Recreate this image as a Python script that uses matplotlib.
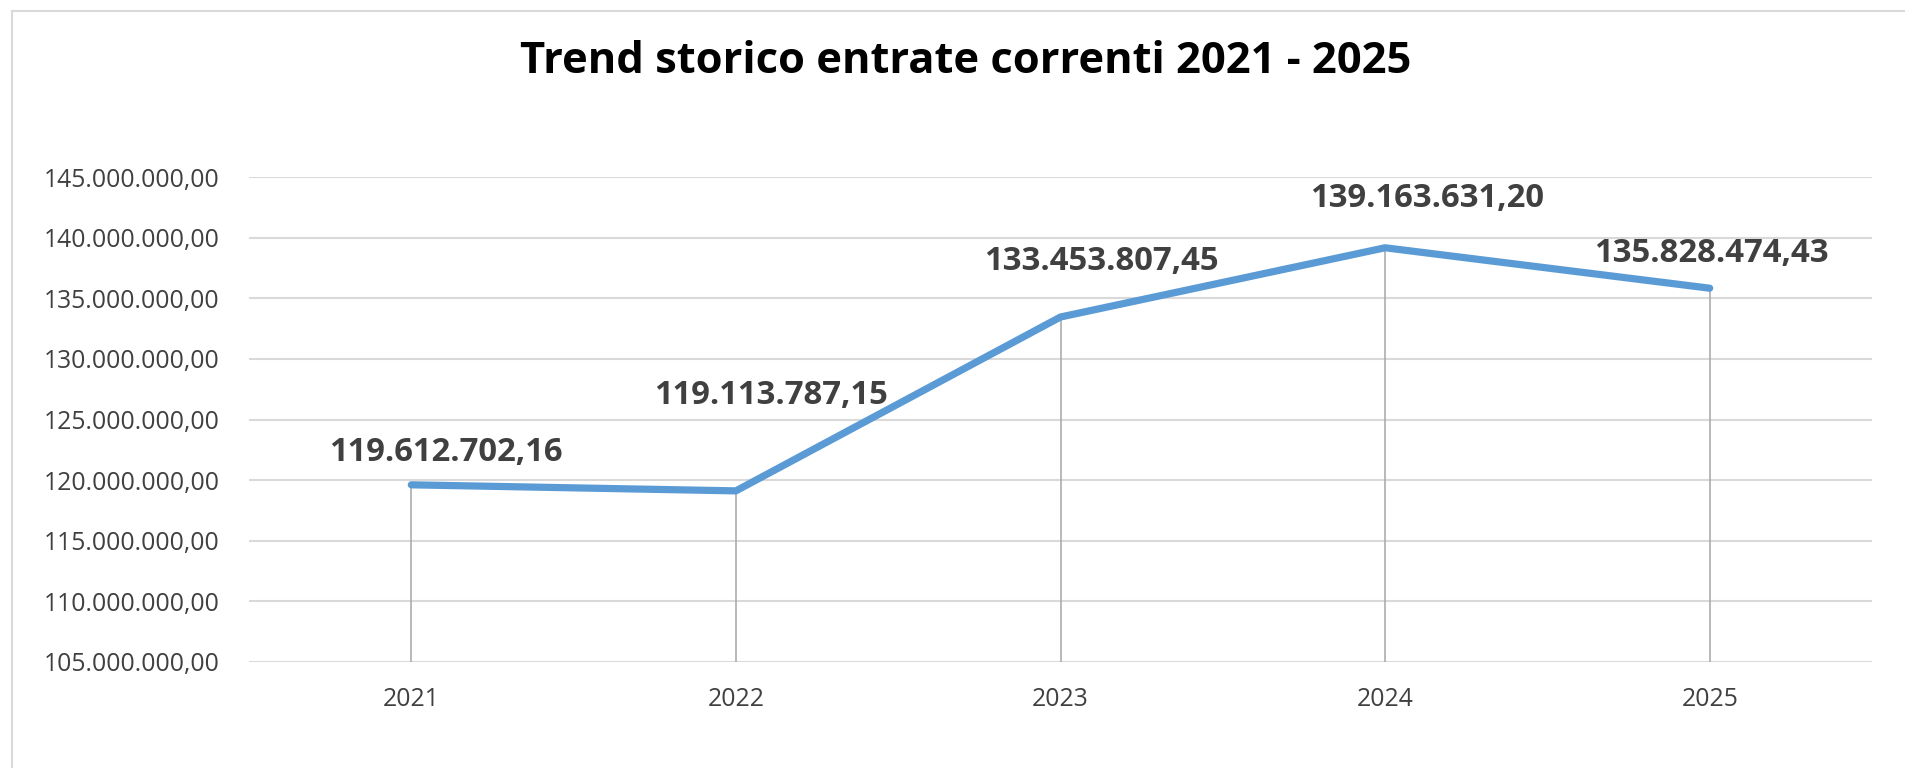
import matplotlib.pyplot as plt
from matplotlib.lines import Line2D
from matplotlib.ticker import FuncFormatter, MultipleLocator

anni = ["2021", "2022", "2023", "2024", "2025"]
entrate = [119612702.16, 119113787.15, 133453807.45, 139163631.20, 135828474.43]
titolo = "Trend storico entrate correnti 2021 - 2025"

# spostamento etichette (pixel) rispetto al punto, come nell'originale
etichette_dx = [35, 35, 41, 42, 2]
etichette_dy = [32, 95, 55, 49, 35]

W, H = 1905, 768
DPI = 100


def formato_it(v, pos=None):
    s = f"{v:,.2f}"
    return s.replace(",", "X").replace(".", ",").replace("X", ".")


fig = plt.figure(figsize=(W / DPI, H / DPI), dpi=DPI)
fig.patch.set_facecolor("white")

ax = fig.add_axes([249 / W, 1 - 662 / H, 1623 / W, 485 / H])
x = list(range(len(anni)))

ax.set_xlim(-0.5, len(anni) - 0.5)
ax.set_ylim(105_000_000, 145_000_000)
ax.yaxis.set_major_locator(MultipleLocator(5_000_000))
ax.yaxis.set_major_formatter(FuncFormatter(formato_it))
ax.grid(axis="y", color="#D9D9D9", linewidth=1.5)
ax.set_axisbelow(True)
for sp in ax.spines.values():
    sp.set_visible(False)

ax.vlines(x, 105_000_000, entrate, color="#A6A6A6", linewidth=1.1, zorder=2)
ax.plot(x, entrate, color="#5B9BD5", linewidth=5.2, solid_capstyle="round",
        solid_joinstyle="round", zorder=3)

ax.set_xticks(x)
ax.set_xticklabels(anni)
ax.tick_params(axis="x", length=0, pad=18)
ax.tick_params(axis="y", length=0, pad=21)
for lab in ax.get_xticklabels() + ax.get_yticklabels():
    lab.set_fontfamily("Open Sans")
    lab.set_fontsize(17.8)
    lab.set_color("#404040")

for xi, v, dx, dy in zip(x, entrate, etichette_dx, etichette_dy):
    ax.annotate(formato_it(v), (xi, v), xytext=(dx * 72 / DPI, dy * 72 / DPI),
                textcoords="offset points", ha="center", va="center",
                fontfamily="Open Sans", fontweight="bold", fontsize=23.7,
                color="#404040", zorder=4)

fig.text(966 / W, 1 - 73 / H, titolo, ha="center", va="baseline",
         fontfamily="Open Sans", fontweight="bold",
         fontsize=31.3, color="black")

# cornice del grafico (lati sinistro e superiore visibili)
bordo = dict(color="#D9D9D9", linewidth=1.5, transform=fig.transFigure)
fig.add_artist(Line2D([12 / W, 12 / W], [0, 1 - 11 / H], **bordo))
fig.add_artist(Line2D([12 / W, 1], [1 - 11 / H, 1 - 11 / H], **bordo))

fig.savefig("out.png", dpi=DPI)
